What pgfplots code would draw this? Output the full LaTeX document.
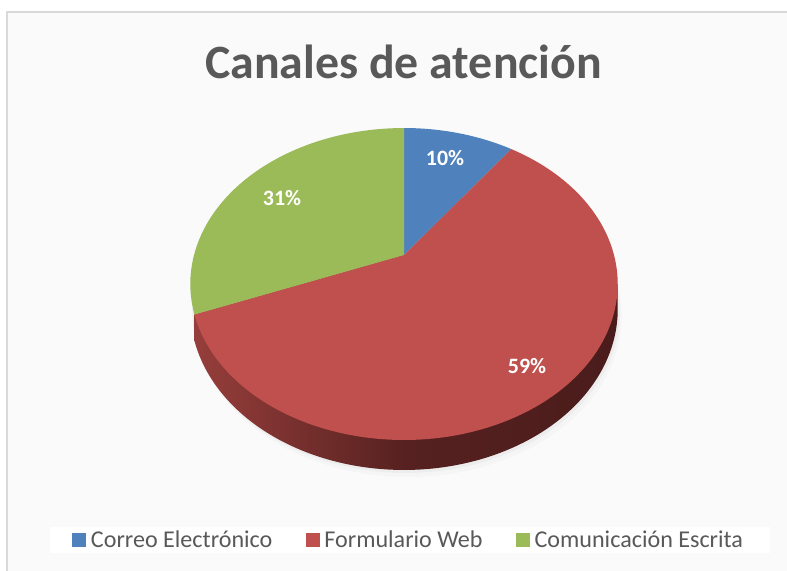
\documentclass[border=0pt]{standalone}
\usepackage{fontspec}
\setmainfont{Carlito}
\usepackage{pgfplots}
\usepackage{pgfplotstable}
\pgfplotsset{compat=1.18}

\definecolor{cBlue}{HTML}{4F81BD}
\definecolor{cRed}{HTML}{C0504D}
\definecolor{cGreen}{HTML}{9BBB59}
\definecolor{cText}{HTML}{595959}
\definecolor{cSideL}{HTML}{963E3B}
\definecolor{cSideM}{HTML}{562120}
\definecolor{cSideR}{HTML}{4A1C1B}

% porcentajes por canal
\pgfplotstableread{
canal pct
Correo 10
Formulario 59
Comunicacion 31
}\canales

\begin{document}
\begin{tikzpicture}[declare function={
    px(\t)=404+210*sin(\t)/(1+0.186*cos(\t));
    py(\t)=316+150.6*cos(\t)/(1+0.186*cos(\t));
    pd(\t)=24.4/(1+0.186*cos(\t));
  }]
\pgfplotstablegetelem{0}{pct}\of\canales \let\pA\pgfplotsretval
\pgfplotstablegetelem{1}{pct}\of\canales \let\pB\pgfplotsretval
\pgfmathsetmacro\aA{3.6*\pA}
\pgfmathsetmacro\aB{3.6*(\pA+\pB)}
% bordes visibles del lateral
\pgfmathsetmacro\sL{100.7}
\pgfmathsetmacro\xL{px(\sL)}\pgfmathsetmacro\yL{py(\sL)}
\pgfmathsetmacro\xG{px(\aB)}\pgfmathsetmacro\yG{py(\aB)}
\begin{axis}[
  width=787bp, height=571bp, scale only axis,
  xmin=0, xmax=787, ymin=0, ymax=571,
  hide axis, clip=false,
  legend columns=3,
  legend cell align=left,
  legend image code/.code={\path[#1] (0bp,-7bp) rectangle (14bp,7bp);},
  legend style={at={(0.521,0.054)}, anchor=center, draw=none, fill=white,
    font=\fontsize{24.2}{28}\selectfont\color{cText},
    nodes={inner xsep=4.5bp}, inner xsep=22bp,
    /tikz/every even column/.append style={column sep=29bp}},
]
\coordinate (BL) at (axis cs:0,0);
\coordinate (TR) at (axis cs:787,571);
% fondo y borde
\fill[black!2] (axis cs:6.5,0) rectangle (axis cs:787,558.5);
\draw[black!15, line width=2bp] (axis cs:6.5,0) -- (axis cs:6.5,558.5) -- (axis cs:787,558.5);

% sombra
\addplot[forget plot, fill=black!4, draw=none, domain=0:360, samples=90]
  ({px(x)+4},{py(x)-pd(x)-7}) -- cycle;
\addplot[forget plot, fill=black!7, draw=none, domain=0:360, samples=90]
  ({px(x)+2},{py(x)-pd(x)-3}) -- cycle;

% lateral
\addplot[forget plot, draw=none, left color=cSideL, right color=cSideR, middle color=cSideM,
  domain=\sL:\aB, samples=120]
  ({px(x)},{py(x)-pd(x)}) -- (axis cs:\xG,\yG) -- (axis cs:404,316) -- (axis cs:\xL,\yL) -- cycle;

% cara superior
\addplot[fill=cBlue, draw=none, domain=0:\aA, samples=30]
  ({px(x)},{py(x)}) -- (axis cs:404,316) -- cycle;
\addlegendentry{Correo Electrónico}
\addplot[fill=cRed, draw=none, domain=\aA:\aB, samples=120]
  ({px(x)},{py(x)}) -- (axis cs:404,316) -- cycle;
\addlegendentry{Formulario Web}
\addplot[fill=cGreen, draw=none, domain=\aB:360, samples=50]
  ({px(x)},{py(x)}) -- (axis cs:404,316) -- cycle;
\addlegendentry{Comunicación Escrita}

% etiquetas
\node[font=\fontsize{22}{26}\selectfont\bfseries, text=white] at (axis cs:445,413) {10\%};
\node[font=\fontsize{22}{26}\selectfont\bfseries, text=white] at (axis cs:527,205) {59\%};
\node[font=\fontsize{22}{26}\selectfont\bfseries, text=white] at (axis cs:282,373) {31\%};

\node[font=\fontsize{48}{56}\selectfont\bfseries, text=cText, anchor=base] at (axis cs:403.5,492) {Canales de atención};
\end{axis}
\pgfresetboundingbox
\path[use as bounding box] (BL) rectangle (TR);
\end{tikzpicture}
\end{document}
